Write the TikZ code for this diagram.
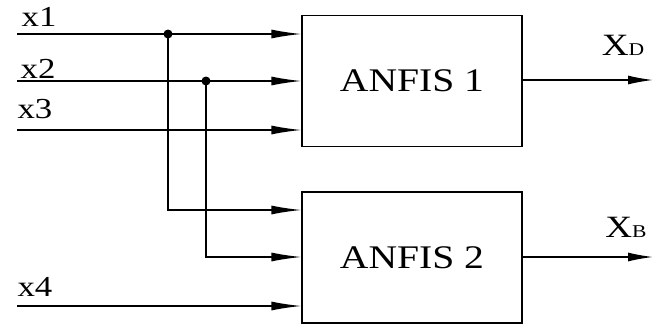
\documentclass[tikz,border=0pt]{standalone}
\usepackage{fontspec}
\setmainfont{Liberation Serif}[FakeStretch=1.2]
\usetikzlibrary{arrows.meta, positioning}

\begin{document}
\begin{tikzpicture}[x=1pt, y=-1pt,
   block/.style={draw, line width=1.2pt, minimum width=220pt, minimum height=131pt,
      inner sep=0pt, font=\fontsize{33}{36}\selectfont},
   sig/.style={line width=1.4pt},
   feed/.style={sig, -{Latex[length=30pt, width=9pt]}},
   emit/.style={sig, -{Latex[length=25pt, width=9pt]}},
   lbl/.style={inner sep=0pt, font=\fontsize{29}{32}\selectfont}]
   % Frame
   \useasboundingbox (0,0) rectangle (653,324);
   % Blocks
   \node[block] (anfisA) at (412,81) {ANFIS 1};
   \node[block] (anfisB) at (412,257.5) {ANFIS 2};
   % Inputs
   \coordinate (inA) at (17,34);
   \coordinate (inB) at (17,81);
   \coordinate (inC) at (17,130);
   \coordinate (inD) at (17,306);
   \node[lbl] (lblA) at (39,17) {x1};
   \node[lbl] (lblB) at (38,69) {x2};
   \node[lbl] (lblC) at (35,109) {x3};
   \node[lbl] (lblD) at (35,287) {x4};
   \draw[feed] (inA) -- (anfisA.west |- inA);
   \draw[feed] (inB) -- (anfisA.west |- inB);
   \draw[feed] (inC) -- (anfisA.west |- inC);
   \draw[feed] (inD) -- (anfisB.west |- inD);
   % Branch points
   \coordinate (tapA) at (168,34);
   \coordinate (tapB) at (206,81);
   \fill (tapA) circle (4.5pt);
   \fill (tapB) circle (4.5pt);
   \coordinate (portA) at (anfisB.west |- 0,210);
   \coordinate (portB) at (anfisB.west |- 0,257);
   \draw[feed] (tapA) |- (portA);
   \draw[feed] (tapB) |- (portB);
   % Outputs
   \coordinate (outA) at (653,80);
   \coordinate (outB) at (653,257);
   \draw[emit] (anfisA.east |- outA) -- (outA);
   \draw[emit] (anfisB.east |- outB) -- (outB);
   \node[lbl, font=\fontsize{31}{34}\selectfont] (lblXD) at (623,45) {X{\fontsize{18}{20}\selectfont D}};
   \node[lbl, font=\fontsize{31}{34}\selectfont] (lblXB) at (626,227) {X{\fontsize{18}{20}\selectfont B}};
\end{tikzpicture}
\end{document}
